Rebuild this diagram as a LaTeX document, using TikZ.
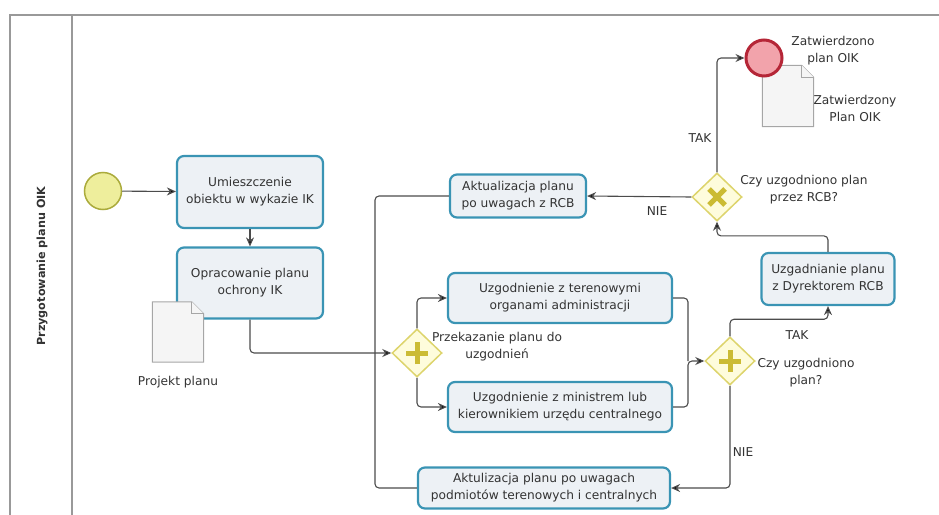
\documentclass[tikz,border=0pt]{standalone}
\usepackage{fontspec}
\setmainfont{DejaVu Sans}
\usetikzlibrary{shapes.geometric,arrows.meta}

\definecolor{taskfill}{HTML}{EDF1F5}
\definecolor{taskline}{HTML}{3A94B4}
\definecolor{startfill}{HTML}{EEEE9C}
\definecolor{startline}{HTML}{ABAB3C}
\definecolor{gwfill}{HTML}{FEFCDC}
\definecolor{gwline}{HTML}{DDD46C}
\definecolor{gwmark}{HTML}{CBBB34}
\definecolor{endfill}{HTML}{F2A3AB}
\definecolor{endline}{HTML}{B52637}
\definecolor{txt}{HTML}{333333}

\begin{document}
\begin{tikzpicture}[x=1pt,y=-1pt,
	every node/.style = {font=\fontsize{12.2}{17}\selectfont, text=txt},
	task/.style = {draw=taskline, fill=taskfill, line width=2.2pt, rounded corners=7pt, align=center, inner sep=1pt},
	start/.style = {draw=startline, fill=startfill, line width=1.5pt, circle, minimum size=37pt, inner sep=0pt},
	finish/.style = {draw=endline, fill=endfill, line width=3pt, circle, minimum size=36pt, inner sep=0pt},
	gate/.style = {draw=gwline, fill=gwfill, line width=1.5pt, diamond, minimum width=50pt, minimum height=48pt, inner sep=0pt},
	gwmarker/.style = {draw=gwmark, line width=5pt},
	docu/.style = {draw=gray!70, fill=gray!8, line width=1pt},
	line/.style = {draw=black!70, line width=1.1pt, rounded corners=4pt},
	flow/.style = {line, -{Stealth[length=9pt,width=8pt,fill=black]}},
	lbl/.style = {align=center}]
	\useasboundingbox (0,0) rectangle (939,514);
	\draw[gray!80, line width=1.5pt] (10,520) |- (945,15);
	\draw[gray!80, line width=1.5pt] (72,15) -- (72,520);
	\node[font=\bfseries\fontsize{11.2}{13}\selectfont, rotate=90] (lane) at (42,266) {Przygotowanie planu OIK};

	\node[start] (s) at (103,191) {};
	\node[task, minimum width=146pt, minimum height=72pt] (t1) at (250,192) {Umieszczenie\\obiektu w wykazie IK};
	\node[task, minimum width=146pt, minimum height=71pt] (t2) at (250,283) {Opracowanie planu\\ochrony IK};
	\node[gate] (g1) at (417,353) {};
	\node[task, minimum width=224pt, minimum height=50pt] (t3) at (560,298) {Uzgodnienie z terenowymi\\organami administracji};
	\node[task, minimum width=224pt, minimum height=50pt] (t4) at (560,407) {Uzgodnienie z ministrem lub\\kierownikiem urzędu centralnego};
	\node[gate] (g2) at (730,361) {};
	\node[task, minimum width=133pt, minimum height=52pt] (t5) at (828,279) {Uzgadnianie planu\\z Dyrektorem RCB};
	\node[gate] (g3) at (717,197) {};
	\node[task, minimum width=136pt, minimum height=43pt] (t6) at (518,196) {Aktualizacja planu\\po uwagach z RCB};
	\node[task, minimum width=252pt, minimum height=41pt] (t7) at (544,488) {Aktulizacja planu po uwagach\\podmiotów terenowych i centralnych};

	\node[minimum width=51pt, minimum height=60pt] (d1) at (178,332) {};
	\draw[docu] (d1.north west) -- ([xshift=-12pt]d1.north east) -- ([yshift=-12pt]d1.north east) -- (d1.south east) -- (d1.south west) -- cycle;
	\draw[docu] ([xshift=-12pt]d1.north east) |- ([yshift=-12pt]d1.north east);
	\node[minimum width=51pt, minimum height=61pt] (d2) at (788,96) {};
	\draw[docu] (d2.north west) -- ([xshift=-12pt]d2.north east) -- ([yshift=-12pt]d2.north east) -- (d2.south east) -- (d2.south west) -- cycle;
	\draw[docu] ([xshift=-12pt]d2.north east) |- ([yshift=-12pt]d2.north east);
	\node[finish] (e) at (764,58) {};

	\draw[gwmarker] ([xshift=-11pt]g1.center) -- ([xshift=11pt]g1.center);
	\draw[gwmarker] ([yshift=-11pt]g1.center) -- ([yshift=11pt]g1.center);
	\draw[gwmarker] ([xshift=-11pt]g2.center) -- ([xshift=11pt]g2.center);
	\draw[gwmarker] ([yshift=-11pt]g2.center) -- ([yshift=11pt]g2.center);
	\draw[gwmarker] ([shift={(-8pt,-8pt)}]g3.center) -- ([shift={(8pt,8pt)}]g3.center);
	\draw[gwmarker] ([shift={(-8pt,8pt)}]g3.center) -- ([shift={(8pt,-8pt)}]g3.center);

	\coordinate (j1) at (375,353);
	\coordinate (j2) at (688,361);

	\draw[flow] (s) -- (t1);
	\draw[flow] (t1) -- (t2);
	\draw[flow] (t2.south) |- (g1.west);
	\draw[flow] (g1.north) |- (t3.west);
	\draw[flow] (g1.south) |- (t4.west);
	\draw[line] (t3.east) -| (j2);
	\draw[flow] (t4.east) -| (j2) -- (g2.west);
	\draw[flow] (g2.north) -- ++(0,-17) -| (t5.south);
	\draw[flow] (g2.south) |- (t7.east);
	\draw[flow] (t5.north) -- ++(0,-16) -| (g3.south);
	\draw[flow] (g3.west) -- (t6.east);
	\draw[flow] (g3.north) |- (e.west);
	\draw[line] (t6.west) -| (j1);
	\draw[line] (t7.west) -| (j1);

	\node (l1) at (178,382) {Projekt planu};
	\node[lbl] (l2) at (497,347) {Przekazanie planu do\\uzgodnień};
	\node[lbl] (l3) at (806,373) {Czy uzgodniono\\plan?};
	\node (l4) at (797,335) {TAK};
	\node (l5) at (743,452) {NIE};
	\node[lbl] (l6) at (804,190) {Czy uzgodniono plan\\przez RCB?};
	\node (l7) at (657,211) {NIE};
	\node (l8) at (700,138) {TAK};
	\node[lbl] (l9) at (833,51) {Zatwierdzono\\plan OIK};
	\node[lbl] (l10) at (855,108) {Zatwierdzony\\Plan OIK};
\end{tikzpicture}
\end{document}
